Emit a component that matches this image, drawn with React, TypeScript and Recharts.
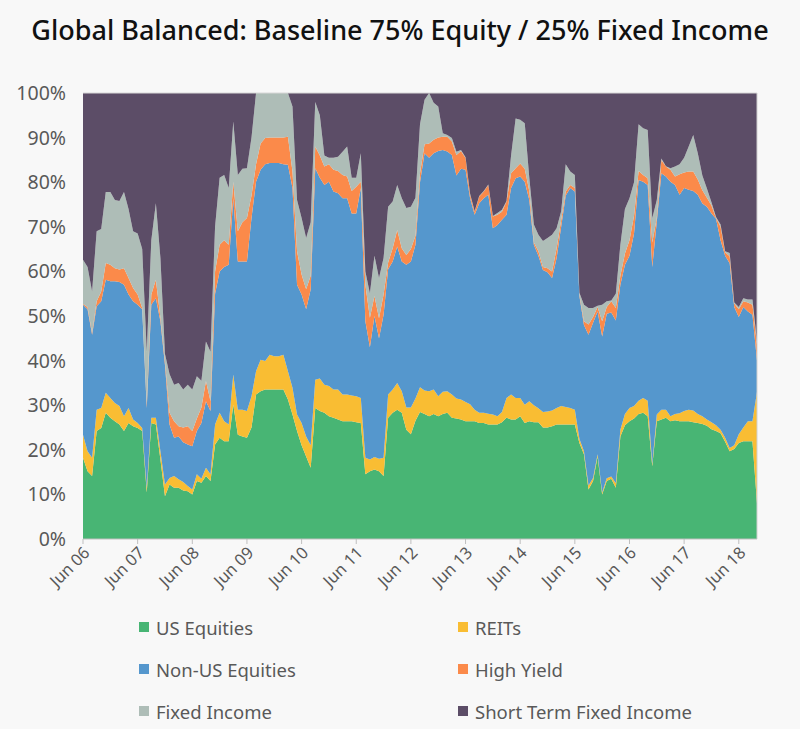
import React from "react";
import { AreaChart, Area, XAxis, YAxis, ReferenceLine } from "recharts";

// Monthly values, Jun 2006 (index 0) through Oct 2018 (index 148), in % of portfolio
const usEquities = [
  18.2, 15.2, 14.1, 24.2, 24.9, 28.3, 27.2, 26.4, 25.7, 24.2,
  26, 25.3, 24.9, 24.2, 10.4, 26, 25.7, 17.8, 9.6, 12.2,
  11.5, 11.5, 10.9, 10.7, 10, 13, 12.6, 14.1, 13, 21.2,
  22.7, 21.9, 21.9, 30.1, 23.4, 23, 22.7, 25, 32.4, 33.1,
  33.5, 33.5, 33.5, 33.5, 33.5, 31.3, 27.9, 24.2, 21, 18.5,
  16, 29.4, 28.7, 28.3, 27.5, 27.2, 26.8, 26.4, 26.4, 26.4,
  26.2, 26, 14.5, 15.2, 15.6, 15.2, 14.1, 27.2, 28.3, 29,
  28.3, 24.5, 23.5, 26.5, 28.5, 28, 27.5, 28, 27.5, 28,
  28.3, 27.2, 27, 26.8, 26.4, 26.4, 26.4, 26, 26, 25.7,
  25.7, 25.7, 26.2, 27.2, 26.8, 26.8, 27.5, 26, 26.4, 26.2,
  26.2, 25, 25, 25.3, 25.7, 25.7, 25.7, 25.7, 25.7, 21.5,
  19, 11.1, 13, 18.5, 10, 13, 13.5, 11.5, 23, 25.5,
  26.4, 27, 28, 28.3, 27.5, 16.3, 26.4, 26.8, 27.2, 26.4,
  26.6, 26.4, 26.4, 26.4, 26.2, 26, 25.8, 25.4, 24.6, 24.2,
  23.7, 21.8, 19.7, 20.2, 21.5, 21.9, 21.9, 21.9, 8,
];

const reits = [
  5.2, 4.5, 4.1, 4.8, 4.5, 4.5, 4.4, 4.1, 4.1, 3.3,
  3.4, 1.5, 1.1, 0.7, 1.1, 1.2, 1.5, 1.9, 2.6, 1.5,
  2.6, 1.9, 1.9, 1.2, 1.1, 1.5, 0.9, 1.9, 1.5, 4.5,
  5.6, 4.5, 3.8, 6.8, 5.6, 6, 6, 7, 5.2, 7.1,
  6.4, 7.8, 7.5, 7.5, 7.8, 6.3, 6, 3.7, 5, 4.5,
  5, 6.3, 7.3, 6.3, 6.8, 6.3, 6.7, 6, 6, 5.8,
  5.8, 5.6, 3.7, 2.6, 2.8, 2.8, 4.1, 5.2, 5.2, 6,
  4.8, 5, 6, 5, 5.5, 5.3, 5.6, 5.5, 4.5, 5,
  4.8, 5.2, 4.5, 4.5, 4.3, 3.8, 2.6, 2.3, 2.3, 2.4,
  2.2, 1.8, 2.3, 4.4, 5.6, 4.8, 4.1, 4.1, 4.5, 3.8,
  3.1, 3.5, 3.6, 3.5, 3.7, 4.1, 3.9, 3.7, 3.3, 1,
  0.7, 0.9, 0.7, 0.5, 0.4, 0.6, 0.5, 1, 1.5, 2.5,
  3, 2.8, 3, 3.3, 3.5, 0.5, 1.5, 2.2, 1.8, 1.1,
  1.4, 1.8, 2.3, 2.6, 2.6, 2, 1.7, 1.4, 1.6, 1.3,
  0.8, 0.9, 0.7, 0.8, 2, 3.1, 4.5, 4.5, 25,
];

const nonUsEquities = [
  29.1, 31.8, 27.6, 23.2, 23.9, 25.3, 26.2, 27.3, 27.8, 29.5,
  25.4, 26.5, 26.5, 26.6, 17.9, 25.3, 26.8, 29.1, 26.8, 12,
  8.6, 9.6, 8.9, 9.3, 9.7, 9.7, 12.5, 14.9, 14.2, 29.3,
  31.7, 34.6, 35.8, 39.5, 33.2, 33.2, 33.5, 40, 42.5, 42.6,
  44.1, 43, 43.3, 43.3, 42.7, 46.3, 44.8, 29.1, 28.8, 28.5,
  35, 47.4, 45, 44.8, 45.8, 44.4, 44, 44, 44, 40.8,
  41, 47.1, 30.6, 25.2, 31.6, 27, 32.1, 28.1, 28.7, 30.6,
  29.1, 32, 32.7, 34.5, 46, 53.2, 52.4, 53, 55, 54.2,
  53.8, 53.7, 50, 51.7, 52.1, 46.2, 43.7, 47, 48.1, 49.1,
  41.8, 42.9, 43.1, 41.1, 46.3, 49.3, 49.7, 50, 45.1, 36,
  34.2, 31.8, 31.2, 29.7, 33.6, 40.2, 47.4, 49.3, 48.9, 32,
  28.3, 33.8, 34.8, 32, 35, 36.9, 36.8, 36.5, 32.5, 33.5,
  34.1, 38.7, 49.5, 48.5, 48.4, 44.2, 43.3, 53, 52.3, 52.6,
  51.4, 49, 50, 49.3, 49.2, 49.2, 47.7, 47.7, 46.8, 46.3,
  42.5, 40.8, 41.4, 31, 26.3, 27, 24.6, 23.9, 7,
];

const highYield = [
  0.2, 0.5, 0.4, 1.1, 2.2, 3.8, 3.7, 2.9, 2.8, 3.7,
  3.7, 3, 2.3, 0.3, 0.7, 2.3, 4.1, 0.8, 0.8, 2.6,
  3.7, 2.3, 3.3, 4.1, 3.4, 2.8, 3.5, 4.5, 2.2, 5,
  6, 6, 4.5, 3.7, 6.8, 8.8, 9.8, 5, 3.9, 5.9,
  5.9, 5.7, 5.7, 5.7, 6, 6.3, 3.7, 7.5, 4.5, 4.5,
  3, 4.9, 5, 4.1, 3.9, 4.9, 5, 5.2, 4.9, 5,
  6, 1.4, 8.2, 6.6, 4.5, 4.5, 4.5, 1.5, 3, 3.7,
  3, 2.2, 2.8, 2, 2, 2, 3.2, 3, 3, 3,
  3.3, 3, 4.6, 4, 2.6, 0.8, 0.7, 1.5, 1.5, 2.2,
  2.6, 2.3, 1.8, 3, 3.3, 2.2, 2.9, 2.9, 2, 0.5,
  1, 0.7, 0.9, 1.5, 2.2, 1.5, 0.9, 0.7, 0.8, 0.3,
  0.8, 2.3, 1.3, 1, 3.4, 1.5, 2.5, 2.8, 2, 2.5,
  3.5, 4, 2, 1.5, 1.5, 5.5, 0.8, 3, 2.2, 2.7,
  1.9, 4.6, 3.5, 4.1, 4.4, 3.4, 3, 2, 1.8, 0.2,
  3, 0.8, 1.6, 0.8, 1.7, 1.3, 2, 2.2, 3.6,
];

const fixedIncome = [
  9.9, 9, 9.3, 15.7, 14, 15.9, 16.3, 15.3, 15.4, 17.1,
  15.5, 12.7, 13.7, 13.2, 11.9, 12.2, 17.2, 13.4, 1.7, 8.7,
  8.2, 9.7, 8.5, 9.3, 9.3, 9.5, 6, 8.9, 11.1, 10,
  15, 14.6, 12.7, 13.5, 12.6, 12, 11.1, 13, 16, 11.3,
  10.1, 10, 10, 10, 10, 9.8, 14.6, 11.5, 12.7, 11.5,
  12, 10, 9, 2.5, 1.5, 2.7, 3.2, 5.2, 6.7, 3,
  2, 6.4, 3, 5.5, 9, 9, 8.2, 12.5, 10.5, 10.1,
  11.2, 10.5, 9.5, 8.5, 11, 10, 11.3, 8.3, 7, 0.8,
  0.4, 0.8, 0.7, 0.2, 0.2, 0.2, 0.1, 0.1, 0.1, 0.1,
  0.1, 0.4, 0.4, 0.1, 4, 11.2, 9.8, 10.2, 3, 4,
  3.7, 5.8, 6.8, 8.2, 4.5, 2, 6.1, 3, 2.9, 0.4,
  3.7, 3.7, 2, 0.3, 3.7, 1.3, 0.2, 3.2, 7, 10,
  9.4, 7.5, 10.5, 10.5, 10.8, 5.4, 4, 0.3, 0.1, 0.3,
  2.2, 2.2, 3.3, 5.6, 8.2, 5.9, 3.3, 2.1, 0.7, 0.2,
  0.5, 0.2, 0.7, 0.2, 0.5, 0.7, 0.7, 1.2, 0.7,
];

const shortTermFixedIncome = [
  37.4, 39, 44.5, 31, 30.5, 22.2, 22.2, 24, 24.2, 22.2,
  26, 31, 31.5, 35, 58, 33, 24.7, 37, 58.5, 63,
  65.4, 65, 66.5, 65.4, 66.5, 63.5, 64.5, 55.7, 58, 30,
  19, 18.4, 21.3, 6.4, 18.4, 17, 16.9, 10, 0, 0,
  0, 0, 0, 0, 0, 0, 3, 24, 28, 32.5,
  29, 2, 5, 14, 14.5, 14.5, 14.3, 13.2, 12, 19,
  19, 13.5, 40, 44.9, 36.5, 41.5, 37, 25.5, 24.3, 20.6,
  23.6, 25.8, 25.5, 23.5, 7, 1.5, 0, 2.2, 3, 9,
  9.4, 10.1, 13.2, 12.8, 14.4, 22.6, 26.5, 23.1, 22, 20.5,
  27.6, 26.9, 26.2, 24.2, 14, 5.7, 6, 6.8, 19, 29.5,
  31.8, 33.2, 32.5, 31.8, 30.3, 26.5, 16, 17.6, 18.4, 44.8,
  47.5, 48.2, 48.2, 47.7, 47.5, 46.7, 46.5, 45, 34, 26,
  23.6, 20, 7, 7.9, 8.3, 28.1, 24, 14.7, 16.4, 16.9,
  16.5, 16, 14.5, 12, 9.4, 13.5, 18.5, 21.4, 24.5, 27.8,
  29.5, 35.5, 35.9, 47, 48, 46, 46.3, 46.3, 55.7,
];

const tickLabels = [
  "Jun 06", "Jun 07", "Jun 08", "Jun 09", "Jun 10", "Jun 11", "Jun 12",
  "Jun 13", "Jun 14", "Jun 15", "Jun 16", "Jun 17", "Jun 18",
];
const tickMonths = [0, 12, 24, 36, 48, 60, 72, 84, 96, 108, 120, 132, 144];
const yTicks = [0, 0.1, 0.2, 0.3, 0.4, 0.5, 0.6, 0.7, 0.8, 0.9, 1];

const seriesNames = [
  "US Equities",
  "REITs",
  "Non-US Equities",
  "High Yield",
  "Fixed Income",
  "Short Term Fixed Income",
];
const seriesKeys = ["us", "reits", "nonus", "hy", "fi", "st"];
const seriesColors = ["#48b574", "#f9bd33", "#5597cd", "#fb8a4a", "#aebdb7", "#5c4d67"];

const data = usEquities.map((v, i) => ({
  m: i,
  us: v,
  reits: reits[i],
  nonus: nonUsEquities[i],
  hy: highYield[i],
  fi: fixedIncome[i],
  st: shortTermFixedIncome[i],
}));

const FONT = "'Noto Sans', 'Open Sans', sans-serif";

const XTick = (props: any) => {
  const { x, y, payload } = props;
  const idx = tickMonths.indexOf(payload.value);
  const label = idx >= 0 ? tickLabels[idx] : "";
  return (
    <g transform={`translate(${x},${y})`}>
      <text
        x={0}
        y={0}
        dy={11}
        textAnchor="end"
        fill="#595959"
        fontSize={16.5}
        fontFamily={FONT}
        transform="rotate(-45)"
      >
        {label}
      </text>
    </g>
  );
};

const legendOrder = [
  [0, 1],
  [2, 3],
  [4, 5],
];

export default function App() {
  return (
    <div
      style={{
        position: "absolute",
        left: 0,
        top: 0,
        width: 800,
        height: 729,
        background: "#f8f8f8",
        fontFamily: FONT,
      }}
    >
      <div
        style={{
          position: "absolute",
          left: 0,
          top: 11,
          width: 800,
          textAlign: "center",
          fontSize: 27,
          fontWeight: 500,
          color: "#111",
          whiteSpace: "nowrap",
        }}
      >
        Global Balanced: Baseline 75% Equity / 25% Fixed Income
      </div>
      <div style={{ position: "absolute", left: 0, top: 0 }}>
        <AreaChart
          width={800}
          height={729}
          data={data}
          stackOffset="expand"
          margin={{ top: 93, right: 43, bottom: 130, left: 0 }}
        >
          <XAxis
            type="number"
            dataKey="m"
            domain={[0, 148]}
            ticks={tickMonths}
            interval={0}
            tick={<XTick />}
            tickSize={5}
            tickMargin={2}
            height={60}
            axisLine={{ stroke: "#bfbfbf" }}
            tickLine={{ stroke: "#bfbfbf" }}
          />
          <YAxis
            type="number"
            domain={[0, 1]}
            ticks={yTicks}
            interval={0}
            width={83}
            axisLine={false}
            tickLine={false}
            tickSize={6}
            tickMargin={11}
            tick={{ fill: "#595959", fontSize: 19.5, fontFamily: FONT }}
            tickFormatter={(v: number) => `${Math.round(v * 100)}%`}
          />
          {seriesKeys.map((k, i) => (
            <Area
              key={k}
              type="linear"
              dataKey={k}
              name={seriesNames[i]}
              stackId="1"
              fill={seriesColors[i]}
              fillOpacity={1}
              stroke="none"
              dot={false}
              activeDot={false}
              isAnimationActive={false}
            />
          ))}
          <ReferenceLine x={148} stroke="#cfcfcf" strokeWidth={1} />
          <ReferenceLine y={1} stroke="#d8d8d8" strokeWidth={1} />
        </AreaChart>
      </div>
      {legendOrder.map((row, r) =>
        row.map((si, c) => (
          <div
            key={si}
            style={{
              position: "absolute",
              left: c === 0 ? 139 : 458,
              top: 615 + r * 42,
              height: 24,
              display: "flex",
              alignItems: "center",
              fontSize: 18.5,
              color: "#595959",
              whiteSpace: "nowrap",
            }}
          >
            <span
              style={{
                display: "inline-block",
                width: 10,
                height: 10,
                background: seriesColors[si],
                marginRight: 7,
              }}
            />
            {seriesNames[si]}
          </div>
        ))
      )}
    </div>
  );
}
